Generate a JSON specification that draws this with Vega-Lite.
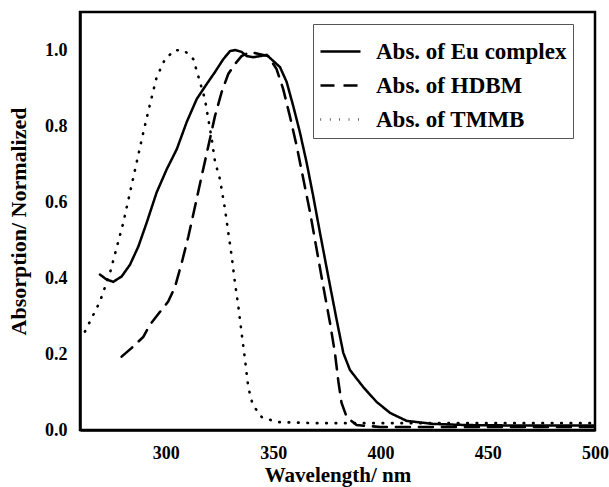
{
  "$schema": "https://vega.github.io/schema/vega-lite/v6.json",
  "width": 515,
  "height": 418,
  "autosize": "none",
  "padding": {"left": 80, "top": 12, "right": 14, "bottom": 57},
  "background": "white",
  "config": {
    "font": "Liberation Serif",
    "view": {"stroke": "black", "strokeWidth": 2.5}
  },
  "data": {
    "values": [
      {"series": "Abs. of Eu complex", "wl": 269.3, "abs": 0.409},
      {"series": "Abs. of Eu complex", "wl": 272.4, "abs": 0.396},
      {"series": "Abs. of Eu complex", "wl": 275.5, "abs": 0.39},
      {"series": "Abs. of Eu complex", "wl": 279.4, "abs": 0.404},
      {"series": "Abs. of Eu complex", "wl": 283.3, "abs": 0.435},
      {"series": "Abs. of Eu complex", "wl": 287.2, "abs": 0.483},
      {"series": "Abs. of Eu complex", "wl": 291.1, "abs": 0.546},
      {"series": "Abs. of Eu complex", "wl": 295.7, "abs": 0.625},
      {"series": "Abs. of Eu complex", "wl": 300.4, "abs": 0.686},
      {"series": "Abs. of Eu complex", "wl": 305.1, "abs": 0.739},
      {"series": "Abs. of Eu complex", "wl": 309.7, "abs": 0.81},
      {"series": "Abs. of Eu complex", "wl": 314.4, "abs": 0.871},
      {"series": "Abs. of Eu complex", "wl": 319.0, "abs": 0.91},
      {"series": "Abs. of Eu complex", "wl": 322.9, "abs": 0.942},
      {"series": "Abs. of Eu complex", "wl": 326.8, "abs": 0.976},
      {"series": "Abs. of Eu complex", "wl": 329.9, "abs": 0.997},
      {"series": "Abs. of Eu complex", "wl": 332.2, "abs": 1.0},
      {"series": "Abs. of Eu complex", "wl": 335.3, "abs": 0.995},
      {"series": "Abs. of Eu complex", "wl": 337.7, "abs": 0.984},
      {"series": "Abs. of Eu complex", "wl": 340.7, "abs": 0.981},
      {"series": "Abs. of Eu complex", "wl": 343.9, "abs": 0.984},
      {"series": "Abs. of Eu complex", "wl": 347.0, "abs": 0.987},
      {"series": "Abs. of Eu complex", "wl": 350.1, "abs": 0.971},
      {"series": "Abs. of Eu complex", "wl": 353.2, "abs": 0.955},
      {"series": "Abs. of Eu complex", "wl": 356.3, "abs": 0.916},
      {"series": "Abs. of Eu complex", "wl": 359.4, "abs": 0.852},
      {"series": "Abs. of Eu complex", "wl": 362.5, "abs": 0.783},
      {"series": "Abs. of Eu complex", "wl": 365.6, "abs": 0.704},
      {"series": "Abs. of Eu complex", "wl": 368.7, "abs": 0.615},
      {"series": "Abs. of Eu complex", "wl": 371.8, "abs": 0.52},
      {"series": "Abs. of Eu complex", "wl": 375.7, "abs": 0.404},
      {"series": "Abs. of Eu complex", "wl": 379.6, "abs": 0.29},
      {"series": "Abs. of Eu complex", "wl": 382.7, "abs": 0.203},
      {"series": "Abs. of Eu complex", "wl": 385.8, "abs": 0.158},
      {"series": "Abs. of Eu complex", "wl": 392.0, "abs": 0.113},
      {"series": "Abs. of Eu complex", "wl": 398.2, "abs": 0.074},
      {"series": "Abs. of Eu complex", "wl": 404.5, "abs": 0.045},
      {"series": "Abs. of Eu complex", "wl": 412.2, "abs": 0.024},
      {"series": "Abs. of Eu complex", "wl": 424.6, "abs": 0.016},
      {"series": "Abs. of Eu complex", "wl": 440, "abs": 0.013},
      {"series": "Abs. of Eu complex", "wl": 460, "abs": 0.012},
      {"series": "Abs. of Eu complex", "wl": 480, "abs": 0.012},
      {"series": "Abs. of Eu complex", "wl": 500, "abs": 0.012},

      {"series": "Abs. of HDBM", "wl": 279.4, "abs": 0.193},
      {"series": "Abs. of HDBM", "wl": 284.1, "abs": 0.216},
      {"series": "Abs. of HDBM", "wl": 289.5, "abs": 0.245},
      {"series": "Abs. of HDBM", "wl": 292.6, "abs": 0.277},
      {"series": "Abs. of HDBM", "wl": 297.3, "abs": 0.311},
      {"series": "Abs. of HDBM", "wl": 301.1, "abs": 0.338},
      {"series": "Abs. of HDBM", "wl": 304.3, "abs": 0.377},
      {"series": "Abs. of HDBM", "wl": 307.4, "abs": 0.44},
      {"series": "Abs. of HDBM", "wl": 310.5, "abs": 0.509},
      {"series": "Abs. of HDBM", "wl": 313.6, "abs": 0.588},
      {"series": "Abs. of HDBM", "wl": 316.7, "abs": 0.668},
      {"series": "Abs. of HDBM", "wl": 319.8, "abs": 0.747},
      {"series": "Abs. of HDBM", "wl": 322.9, "abs": 0.826},
      {"series": "Abs. of HDBM", "wl": 326.0, "abs": 0.889},
      {"series": "Abs. of HDBM", "wl": 329.1, "abs": 0.937},
      {"series": "Abs. of HDBM", "wl": 332.2, "abs": 0.963},
      {"series": "Abs. of HDBM", "wl": 335.3, "abs": 0.984},
      {"series": "Abs. of HDBM", "wl": 339.2, "abs": 0.995},
      {"series": "Abs. of HDBM", "wl": 343.9, "abs": 0.989},
      {"series": "Abs. of HDBM", "wl": 347.7, "abs": 0.984},
      {"series": "Abs. of HDBM", "wl": 351.6, "abs": 0.95},
      {"series": "Abs. of HDBM", "wl": 354.7, "abs": 0.897},
      {"series": "Abs. of HDBM", "wl": 357.8, "abs": 0.826},
      {"series": "Abs. of HDBM", "wl": 361.0, "abs": 0.747},
      {"series": "Abs. of HDBM", "wl": 364.1, "abs": 0.66},
      {"series": "Abs. of HDBM", "wl": 367.2, "abs": 0.573},
      {"series": "Abs. of HDBM", "wl": 370.3, "abs": 0.475},
      {"series": "Abs. of HDBM", "wl": 373.4, "abs": 0.377},
      {"series": "Abs. of HDBM", "wl": 376.5, "abs": 0.282},
      {"series": "Abs. of HDBM", "wl": 378.8, "abs": 0.203},
      {"series": "Abs. of HDBM", "wl": 380.4, "abs": 0.128},
      {"series": "Abs. of HDBM", "wl": 381.9, "abs": 0.071},
      {"series": "Abs. of HDBM", "wl": 384.3, "abs": 0.034},
      {"series": "Abs. of HDBM", "wl": 388.9, "abs": 0.013},
      {"series": "Abs. of HDBM", "wl": 400, "abs": 0.008},
      {"series": "Abs. of HDBM", "wl": 450, "abs": 0.008},
      {"series": "Abs. of HDBM", "wl": 500, "abs": 0.008},

      {"series": "Abs. of  TMMB", "wl": 262.3, "abs": 0.259},
      {"series": "Abs. of  TMMB", "wl": 266.2, "abs": 0.303},
      {"series": "Abs. of  TMMB", "wl": 269.3, "abs": 0.338},
      {"series": "Abs. of  TMMB", "wl": 274.0, "abs": 0.414},
      {"series": "Abs. of  TMMB", "wl": 277.1, "abs": 0.48},
      {"series": "Abs. of  TMMB", "wl": 280.2, "abs": 0.546},
      {"series": "Abs. of  TMMB", "wl": 283.3, "abs": 0.625},
      {"series": "Abs. of  TMMB", "wl": 286.4, "abs": 0.704},
      {"series": "Abs. of  TMMB", "wl": 289.5, "abs": 0.783},
      {"series": "Abs. of  TMMB", "wl": 292.6, "abs": 0.857},
      {"series": "Abs. of  TMMB", "wl": 295.7, "abs": 0.928},
      {"series": "Abs. of  TMMB", "wl": 299.6, "abs": 0.976},
      {"series": "Abs. of  TMMB", "wl": 304.3, "abs": 1.0},
      {"series": "Abs. of  TMMB", "wl": 308.9, "abs": 0.997},
      {"series": "Abs. of  TMMB", "wl": 312.8, "abs": 0.976},
      {"series": "Abs. of  TMMB", "wl": 314.4, "abs": 0.945},
      {"series": "Abs. of  TMMB", "wl": 316.7, "abs": 0.9},
      {"series": "Abs. of  TMMB", "wl": 318.2, "abs": 0.871},
      {"series": "Abs. of  TMMB", "wl": 319.8, "abs": 0.818},
      {"series": "Abs. of  TMMB", "wl": 321.4, "abs": 0.765},
      {"series": "Abs. of  TMMB", "wl": 322.9, "abs": 0.707},
      {"series": "Abs. of  TMMB", "wl": 325.2, "abs": 0.66},
      {"series": "Abs. of  TMMB", "wl": 327.6, "abs": 0.58},
      {"series": "Abs. of  TMMB", "wl": 329.1, "abs": 0.52},
      {"series": "Abs. of  TMMB", "wl": 330.7, "abs": 0.457},
      {"series": "Abs. of  TMMB", "wl": 332.2, "abs": 0.388},
      {"series": "Abs. of  TMMB", "wl": 333.8, "abs": 0.325},
      {"series": "Abs. of  TMMB", "wl": 335.3, "abs": 0.256},
      {"series": "Abs. of  TMMB", "wl": 336.9, "abs": 0.185},
      {"series": "Abs. of  TMMB", "wl": 338.4, "abs": 0.113},
      {"series": "Abs. of  TMMB", "wl": 340.5, "abs": 0.066},
      {"series": "Abs. of  TMMB", "wl": 344.7, "abs": 0.034},
      {"series": "Abs. of  TMMB", "wl": 351.7, "abs": 0.021},
      {"series": "Abs. of  TMMB", "wl": 370, "abs": 0.018},
      {"series": "Abs. of  TMMB", "wl": 400, "abs": 0.018},
      {"series": "Abs. of  TMMB", "wl": 450, "abs": 0.018},
      {"series": "Abs. of  TMMB", "wl": 500, "abs": 0.018}
    ]
  },
  "mark": {"type": "line", "color": "black", "strokeCap": "round", "clip": true},
  "encoding": {
    "x": {
      "field": "wl", "type": "quantitative",
      "scale": {"domain": [260, 500], "nice": false, "zero": false},
      "axis": {
        "title": "Wavelength/ nm", "values": [300, 350, 400, 450, 500],
        "grid": false, "ticks": false, "domainColor": "black", "domainWidth": 2.5,
        "labelFont": "Liberation Serif", "labelFontWeight": "bold", "labelFontSize": 18, "labelColor": "black",
        "labelPadding": 14, "labelFlush": false,
        "titleFont": "Liberation Serif", "titleFontWeight": "bold", "titleFontSize": 21, "titleColor": "black",
        "titlePadding": 2
      }
    },
    "y": {
      "field": "abs", "type": "quantitative",
      "scale": {"domain": [0, 1.1], "nice": false},
      "axis": {
        "title": "Absorption/ Normalized", "values": [0, 0.2, 0.4, 0.6, 0.8, 1.0], "format": ".1f",
        "grid": false, "ticks": false, "domainColor": "black", "domainWidth": 2.5,
        "labelFont": "Liberation Serif", "labelFontWeight": "bold", "labelFontSize": 18, "labelColor": "black",
        "labelPadding": 13, "labelFlush": false,
        "titleFont": "Liberation Serif", "titleFontWeight": "bold", "titleFontSize": 22, "titleColor": "black",
        "titlePadding": 14
      }
    },
    "strokeDash": {
      "field": "series", "type": "nominal",
      "scale": {
        "domain": ["Abs. of Eu complex", "Abs. of HDBM", "Abs. of  TMMB"],
        "range": [[1, 0], [14, 9], [0.6, 8.8]]
      },
      "legend": {
        "title": null, "orient": "none", "legendX": 233, "legendY": 12,
        "fillColor": "white", "strokeColor": "#555555", "padding": 6,
        "symbolType": "stroke", "symbolSize": 1600, "symbolStrokeWidth": 3, "symbolStrokeColor": "black",
        "labelFont": "Liberation Serif", "labelFontWeight": "bold", "labelFontSize": 23, "labelColor": "black",
        "labelOffset": 14, "rowPadding": -14, "labelLimit": 300
      }
    },
    "strokeWidth": {
      "field": "series", "type": "nominal",
      "scale": {
        "domain": ["Abs. of Eu complex", "Abs. of HDBM", "Abs. of  TMMB"],
        "range": [2.5, 2.6, 3.6]
      },
      "legend": null
    },
    "detail": {"field": "series", "type": "nominal"}
  }
}
